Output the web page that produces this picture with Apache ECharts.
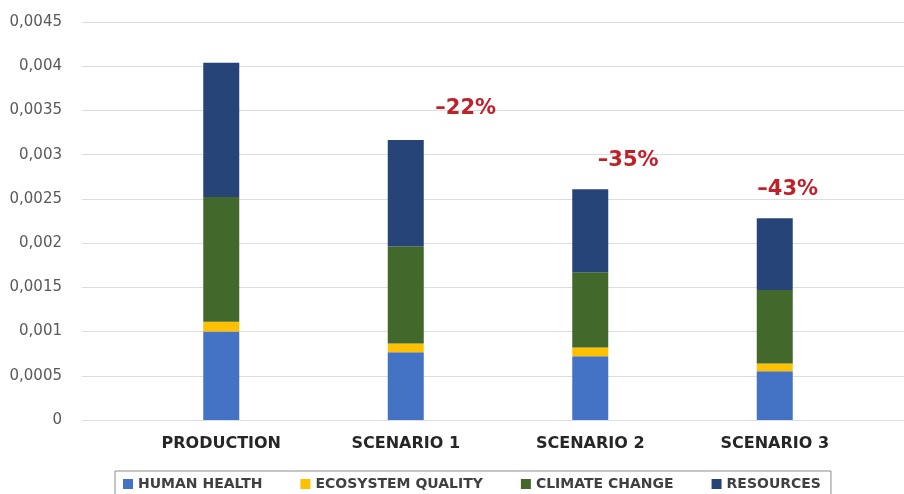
<!DOCTYPE html>
<html>
<head>
<meta charset="utf-8">
<script src="https://cdn.jsdelivr.net/npm/echarts@6/dist/echarts.min.js"></script>
<style>html,body{margin:0;padding:0;background:#fff}#c{width:904px;height:494px}</style>
</head>
<body>
<div id="c"></div>
<script>
const categories = ['PRODUCTION', 'SCENARIO 1', 'SCENARIO 2', 'SCENARIO 3'];
const humanHealth = [0.00100, 0.000765, 0.00072, 0.00055];
const ecosystemQuality = [0.00011, 0.00010, 0.00010, 0.00009];
const climateChange = [0.00141, 0.00110, 0.00085, 0.00083];
const resources = [0.00152, 0.00120, 0.00094, 0.00081];
const changeLabels = ['', '\u201322%', '\u201335%', '\u201343%'];
const yTicks = { min: 0, max: 0.0045, interval: 0.0005 };

const labelOffsets = [[0, 0], [60, -16], [38, -13], [13, -13]];
const FONT = '"DejaVu Sans", sans-serif';

const chart = echarts.init(document.getElementById('c'));
const fmt = v => String(+v.toFixed(4)).replace('.', ',');

const resData = resources.map((v, i) => ({
  value: v,
  label: {
    show: changeLabels[i] !== '',
    formatter: changeLabels[i],
    position: 'top',
    offset: labelOffsets[i],
    color: '#C0202A',
    fontSize: 21,
    fontWeight: 'bold',
    fontFamily: FONT
  }
}));

function bar(name, data, color) {
  return { name, type: 'bar', stack: 'total', xAxisIndex: 1, yAxisIndex: 1, barWidth: 36,
    data, itemStyle: { color }, emphasis: { disabled: true } };
}

chart.setOption({
  animation: false,
  grid: [
    { left: 82, right: 0, top: 22, bottom: 74 },
    { left: 129, right: 37, top: 22, bottom: 74 }
  ],
  xAxis: [
    { gridIndex: 0, type: 'value', show: false, min: 0, max: 1 },
    { gridIndex: 1, type: 'category', data: categories,
      axisLine: { show: false }, axisTick: { show: false },
      axisLabel: { margin: 16, color: '#262626', fontSize: 16, fontWeight: 'bold', fontFamily: FONT } }
  ],
  yAxis: [
    { gridIndex: 0, type: 'value', min: yTicks.min, max: yTicks.max, interval: yTicks.interval,
      axisLine: { show: false }, axisTick: { show: false },
      splitLine: { lineStyle: { color: '#DDDDDD', width: 1 } },
      axisLabel: { formatter: fmt, color: '#595959', fontSize: 15, fontFamily: FONT, margin: 20 } },
    { gridIndex: 1, type: 'value', min: yTicks.min, max: yTicks.max, interval: yTicks.interval, show: false,
      splitLine: { show: false } }
  ],
  legend: {
    left: 115, top: 471,
    data: ['HUMAN HEALTH', 'ECOSYSTEM QUALITY', 'CLIMATE CHANGE', 'RESOURCES'],
    icon: 'rect', itemWidth: 10, itemHeight: 10, itemGap: 38,
    borderColor: '#8C8C8C', borderWidth: 1, padding: [6, 10, 6, 8],
    textStyle: { color: '#404040', fontSize: 14, fontWeight: 'bold', fontFamily: FONT }
  },
  series: [
    bar('HUMAN HEALTH', humanHealth, '#4472C4'),
    bar('ECOSYSTEM QUALITY', ecosystemQuality, '#FFC000'),
    bar('CLIMATE CHANGE', climateChange, '#43682B'),
    bar('RESOURCES', resData, '#264478')
  ]
});
</script>
</body>
</html>
